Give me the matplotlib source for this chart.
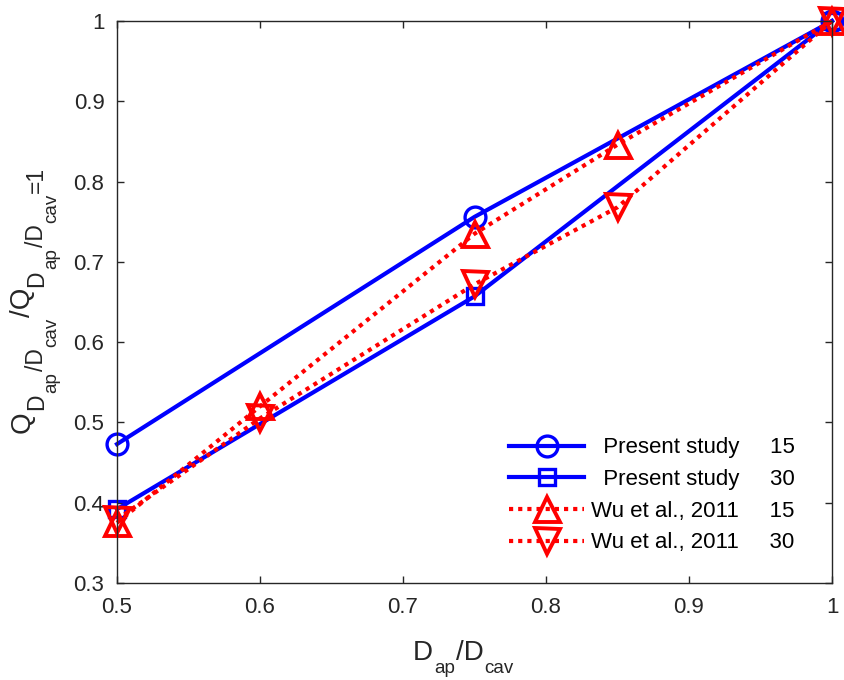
import matplotlib
matplotlib.use("Agg")
import matplotlib.pyplot as plt

plt.rcParams["font.family"] = ["Liberation Sans", "DejaVu Sans"]

# Present study (solid blue)
ps_x = [0.5, 0.75, 1.0]
ps15_y = [0.473, 0.756, 1.0]
ps30_y = [0.392, 0.657, 1.0]

# Wu et al., 2011 (dotted red)
wu_x = [0.5, 0.6, 0.75, 0.85, 1.0]
wu15_y = [0.375, 0.52, 0.735, 0.846, 1.0]
wu30_y = [0.379, 0.505, 0.672, 0.768, 1.0]

labels = ["  Present study     15", "  Present study     30",
          "Wu et al., 2011     15", "Wu et al., 2011     30"]

xticks = [0.5, 0.6, 0.7, 0.8, 0.9, 1.0]
yticks = [0.3, 0.4, 0.5, 0.6, 0.7, 0.8, 0.9, 1.0]

BLUE = (0, 0, 1)
RED = (1, 0, 0)
INK = "0.15"
W, H = 844, 680


def _fmt(v):
    return "1" if v == 1 else f"{v:.1f}"


def _pieces(fig, pieces, x0, y0, vertical):
    """MATLAB-style sub/subsub scripts: lay text pieces one after another (pixel coords, y from top)."""
    r = fig.canvas.get_renderer()
    pos = y0 if vertical else x0
    for txt, size, shift in pieces:
        if vertical:
            t = fig.text((x0 + shift) / W, 1 - pos / H, txt, rotation=90, rotation_mode="anchor",
                         ha="left", va="baseline", fontsize=size, color=INK)
            pos -= t.get_window_extent(r).height + 1
        else:
            t = fig.text(pos / W, 1 - (y0 + shift) / H, txt, ha="left", va="baseline",
                         fontsize=size, color=INK)
            pos += t.get_window_extent(r).width + 1


fig = plt.figure(figsize=(W / 100, H / 100), dpi=100)
ax = fig.add_axes([117 / W, 1 - 583 / H, (832 - 117) / W, (583 - 21) / H])

kw = dict(lw=3, mfc="none", clip_on=False)
ax.plot(ps_x, ps15_y, "-o", color=BLUE, ms=15, mew=2.4, label=labels[0], **kw)
ax.plot(ps_x, ps30_y, "-s", color=BLUE, ms=12, mew=2.4, label=labels[1], **kw)
ax.plot(wu_x, wu15_y, "-^", color=RED, ms=18, mew=2.8, dashes=(1, 1.2), label=labels[2], **kw)
ax.plot(wu_x, wu30_y, "-v", color=RED, ms=18, mew=2.8, dashes=(1, 1.2), label=labels[3], **kw)

ax.set_xlim(0.5, 1.0)
ax.set_ylim(0.3, 1.0)
ax.set_xticks(xticks)
ax.set_xticklabels([_fmt(v) for v in xticks])
ax.set_yticks(yticks)
ax.set_yticklabels([_fmt(v) for v in yticks])
ax.tick_params(direction="in", length=5, width=1, labelsize=16, colors=INK,
               top=True, right=True)
ax.tick_params(axis="x", pad=10)
ax.tick_params(axis="y", pad=9)
for s in ax.spines.values():
    s.set_color(INK)
    s.set_linewidth(1)

leg = ax.legend(loc="lower right", bbox_to_anchor=(0.97, 0.025), frameon=False, fontsize=16,
                handlelength=3.4, borderaxespad=0.3, labelspacing=0.48, handletextpad=0.3)

# axis labels: D_ap/D_cav and Q_{D_ap/D_cav}/Q_{D_ap/D_cav=1}
_pieces(fig, [("D", 20, 0), ("ap", 13.5, 13), ("/D", 20, 0), ("cav", 13.5, 13)],
        413, 660, vertical=False)
_pieces(fig, [("Q", 20, 0), ("D", 16.5, 13), ("ap", 13.5, 26), ("/D", 16.5, 13),
              ("cav", 13.5, 26), ("/Q", 20, 0), ("D", 16.5, 13), ("ap", 13.5, 26),
              ("/D", 16.5, 13), ("cav", 13.5, 26), ("=1", 16.5, 13)],
        30, 433, vertical=True)

fig.savefig("out.png", dpi=100)
